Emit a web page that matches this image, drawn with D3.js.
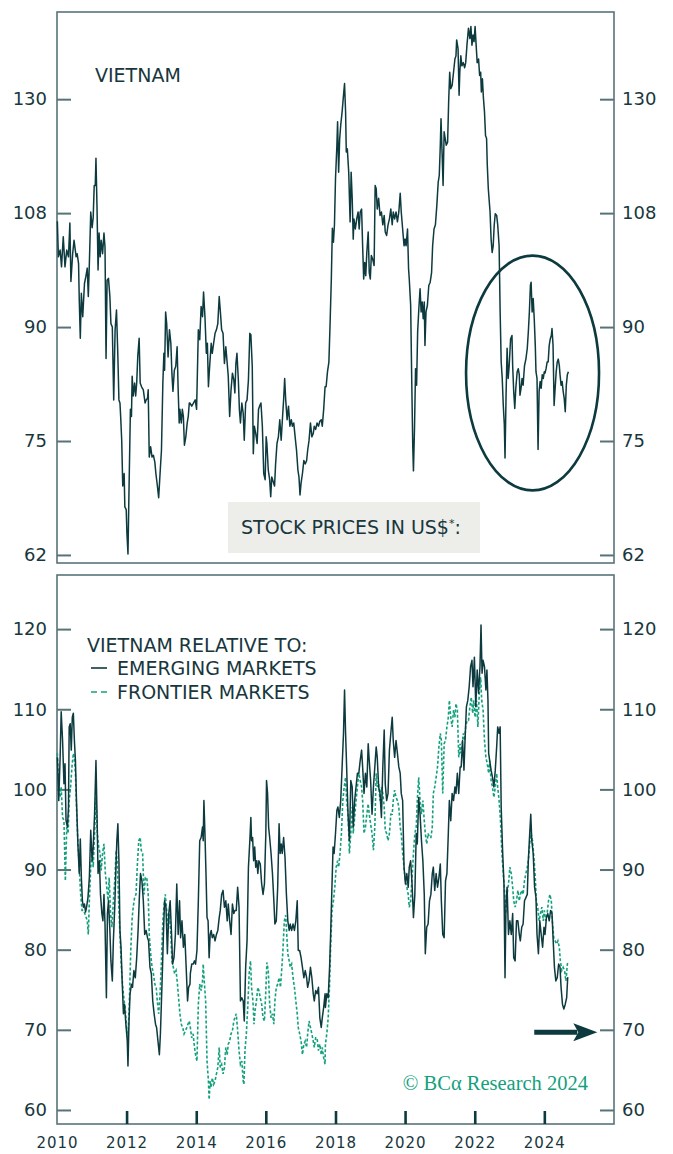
<!DOCTYPE html>
<html>
<head>
<meta charset="utf-8">
<script src="https://cdn.jsdelivr.net/npm/d3@7"></script>
<style>
  body { margin: 0; background: #fff; }
  svg text { font-family: "DejaVu Sans", sans-serif; fill: #18373d; }
</style>
</head>
<body>
<svg width="673" height="1154"></svg>
<script>
// Vietnam stock prices in US$ (top panel), [decimal year, value]
var vietnamUsd = [
[2010.01,106.6],[2010.04,100.7],[2010.09,101.8],[2010.13,99.1],[2010.18,104.0],[2010.23,99.1],[2010.28,101.8],[2010.33,100.7],[2010.37,106.3],[2010.40,96.8],[2010.45,101.2],[2010.49,103.4],[2010.55,100.7],[2010.58,101.2],[2010.62,99.6],[2010.64,94.0],[2010.67,88.4],[2010.70,95.0],[2010.74,91.5],[2010.79,96.5],[2010.83,97.6],[2010.87,98.9],[2010.90,94.5],[2010.93,99.6],[2010.97,108.2],[2011.01,105.5],[2011.04,107.2],[2011.07,112.9],[2011.10,112.9],[2011.12,117.9],[2011.15,109.1],[2011.18,98.6],[2011.21,104.6],[2011.24,100.7],[2011.27,103.4],[2011.31,101.2],[2011.35,104.6],[2011.38,102.3],[2011.41,85.6],[2011.44,97.0],[2011.48,97.3],[2011.52,94.5],[2011.55,90.5],[2011.59,90.0],[2011.63,80.1],[2011.67,89.6],[2011.71,92.5],[2011.75,85.8],[2011.78,80.1],[2011.81,79.7],[2011.83,78.0],[2011.86,75.1],[2011.89,69.8],[2011.93,71.2],[2011.95,67.5],[2011.99,67.2],[2012.01,64.7],[2012.04,62.6],[2012.07,69.4],[2012.11,78.9],[2012.14,78.0],[2012.16,83.2],[2012.19,80.6],[2012.23,82.3],[2012.26,80.6],[2012.29,82.3],[2012.32,85.8],[2012.36,88.4],[2012.39,82.3],[2012.43,81.8],[2012.48,81.4],[2012.53,79.7],[2012.56,80.1],[2012.60,80.3],[2012.62,81.4],[2012.65,73.1],[2012.69,74.3],[2012.73,73.1],[2012.77,73.3],[2012.81,72.5],[2012.84,71.2],[2012.88,69.9],[2012.92,68.5],[2012.96,71.2],[2013.00,73.9],[2013.04,82.3],[2013.07,86.3],[2013.09,84.0],[2013.12,92.2],[2013.15,90.5],[2013.19,85.8],[2013.23,89.6],[2013.27,87.7],[2013.30,83.6],[2013.33,81.2],[2013.37,84.0],[2013.41,84.5],[2013.45,87.2],[2013.48,81.4],[2013.51,77.2],[2013.53,78.9],[2013.57,77.2],[2013.60,78.9],[2013.63,78.0],[2013.66,74.5],[2013.70,75.5],[2013.74,77.2],[2013.77,78.0],[2013.80,79.7],
[2013.82,79.7],[2013.87,79.3],[2013.92,79.7],[2013.97,80.1],[2014.01,78.9],[2014.06,89.6],[2014.10,88.2],[2014.14,93.0],[2014.18,91.5],[2014.21,95.2],[2014.25,91.5],[2014.29,86.3],[2014.32,87.7],[2014.35,81.8],[2014.39,84.9],[2014.43,87.7],[2014.46,86.3],[2014.50,87.7],[2014.54,89.1],[2014.58,89.6],[2014.62,90.5],[2014.66,94.5],[2014.69,92.5],[2014.73,89.6],[2014.77,89.1],[2014.81,84.9],[2014.85,87.2],[2014.89,84.9],[2014.92,83.2],[2014.96,78.0],[2015.00,81.4],[2015.04,83.6],[2015.08,82.7],[2015.11,81.0],[2015.14,84.9],[2015.17,86.3],[2015.21,82.7],[2015.24,78.9],[2015.27,77.2],[2015.31,79.7],[2015.35,78.4],[2015.38,75.1],[2015.42,79.7],[2015.46,80.1],[2015.50,82.7],[2015.54,89.1],[2015.57,88.9],[2015.61,84.5],[2015.64,73.5],[2015.67,76.8],[2015.71,75.9],[2015.75,74.7],[2015.79,78.9],[2015.82,79.3],[2015.86,79.7],[2015.90,76.8],[2015.94,71.2],[2015.98,70.5],[2016.01,75.5],[2016.03,74.7],[2016.07,71.6],[2016.11,70.5],[2016.14,68.6],[2016.17,70.8],[2016.21,70.3],[2016.25,69.8],[2016.28,72.3],[2016.32,74.7],[2016.36,75.5],[2016.40,77.6],[2016.44,75.1],[2016.48,78.0],[2016.51,80.1],[2016.54,82.9],[2016.57,80.1],[2016.61,77.6],[2016.65,79.3],[2016.69,76.8],[2016.73,77.6],[2016.76,76.8],[2016.80,77.2],[2016.84,75.5],[2016.88,73.9],[2016.92,71.6],[2016.95,70.8],[2016.98,68.8],[2017.01,70.1],[2017.05,71.2],[2017.09,72.7],[2017.13,72.3],[2017.17,72.7],[2017.20,73.9],[2017.24,75.1],[2017.28,77.2],[2017.32,75.5],[2017.36,75.9],[2017.39,76.8],[2017.43,76.4],[2017.47,77.2],[2017.51,76.8],[2017.55,77.4],[2017.59,77.6],[2017.62,76.8],[2017.66,78.9],[2017.70,81.8],
[2017.73,81.8],[2017.77,83.8],[2017.81,85.1],[2017.84,89.8],[2017.88,97.2],[2017.91,105.4],[2017.94,103.1],[2017.97,106.0],[2018.00,114.1],[2018.04,120.4],[2018.06,125.0],[2018.09,115.3],[2018.12,121.6],[2018.15,124.3],[2018.19,127.0],[2018.23,130.4],[2018.26,132.9],[2018.29,127.0],[2018.31,119.1],[2018.34,119.7],[2018.38,115.3],[2018.42,106.5],[2018.45,115.3],[2018.48,110.6],[2018.51,103.6],[2018.53,107.0],[2018.57,105.3],[2018.61,107.0],[2018.65,108.2],[2018.68,105.3],[2018.71,108.2],[2018.75,108.7],[2018.78,102.5],[2018.81,97.2],[2018.84,99.8],[2018.87,97.7],[2018.90,101.4],[2018.94,104.8],[2018.97,98.2],[2019.00,97.2],[2019.03,100.9],[2019.07,100.3],[2019.11,99.3],[2019.14,112.9],[2019.17,112.3],[2019.20,108.7],[2019.24,110.6],[2019.28,107.6],[2019.32,108.2],[2019.36,106.0],[2019.40,107.6],[2019.43,104.8],[2019.47,104.2],[2019.51,106.0],[2019.55,107.0],[2019.59,108.7],[2019.63,106.0],[2019.66,108.2],[2019.70,107.0],[2019.74,108.2],[2019.78,106.5],[2019.82,108.2],[2019.86,111.5],[2019.89,108.2],[2019.93,105.3],[2019.97,102.5],[2020.00,103.6],[2020.03,102.5],[2020.07,105.3],[2020.10,98.8],[2020.12,97.2],[2020.16,93.2],[2020.19,82.9],[2020.22,74.4],[2020.24,71.5],[2020.27,76.5],[2020.30,84.2],[2020.33,82.0],[2020.36,89.3],[2020.40,93.2],[2020.43,95.7],[2020.46,92.2],[2020.49,93.7],[2020.52,91.2],[2020.55,93.7],[2020.57,87.4],[2020.60,92.2],[2020.64,93.2],[2020.68,96.2],[2020.72,96.7],[2020.76,98.2],[2020.79,102.5],[2020.83,105.3],[2020.87,106.0],[2020.91,109.3],[2020.95,113.5],[2020.98,114.7],[2021.01,120.4],[2021.03,125.6],[2021.06,119.2],[2021.09,112.9],[2021.12,123.0],[2021.15,121.7],[2021.18,120.4],[2021.22,121.0],[2021.25,129.1],[2021.28,135.3],[2021.31,131.8],[2021.35,132.5],[2021.39,135.3],[2021.43,138.2],[2021.46,138.9],[2021.48,142.5],[2021.52,140.5],[2021.55,130.4],
[2021.57,135.3],[2021.60,138.9],[2021.63,136.7],[2021.67,137.4],[2021.71,136.3],[2021.74,137.4],[2021.78,141.7],[2021.82,145.2],[2021.86,142.8],[2021.89,145.6],[2021.92,141.3],[2021.95,143.6],[2021.98,142.1],[2022.01,145.6],[2022.04,141.3],[2022.07,137.4],[2022.11,138.2],[2022.14,134.6],[2022.17,135.3],[2022.19,131.1],[2022.22,133.9],[2022.25,129.8],[2022.28,127.0],[2022.31,122.3],[2022.34,121.7],[2022.36,116.7],[2022.39,112.3],[2022.41,110.6],[2022.44,108.2],[2022.47,103.6],[2022.50,101.4],[2022.53,102.5],[2022.56,106.0],[2022.59,107.9],[2022.63,107.6],[2022.66,106.0],[2022.70,102.5],[2022.73,92.2],[2022.76,85.1],[2022.79,82.9],[2022.82,79.4],[2022.85,77.0],[2022.87,73.0],[2022.90,80.7],[2022.93,87.0],[2022.96,82.9],[2022.99,84.6],[2023.03,88.3],[2023.07,88.8],[2023.09,84.6],[2023.12,81.2],[2023.15,79.0],[2023.18,81.6],[2023.22,83.8],[2023.25,84.2],[2023.28,83.4],[2023.30,80.7],[2023.33,81.6],[2023.36,82.9],[2023.39,82.0],[2023.43,84.6],[2023.47,85.5],[2023.51,87.0],[2023.54,89.3],[2023.57,92.2],[2023.60,96.2],[2023.62,96.7],[2023.65,92.2],[2023.68,94.2],[2023.71,91.2],[2023.74,87.4],[2023.76,83.8],[2023.79,82.9],[2023.82,74.0],[2023.85,81.2],[2023.88,82.5],[2023.91,81.6],[2023.94,83.4],[2023.97,82.9],[2024.00,83.8],[2024.02,83.6],[2024.05,84.2],[2024.08,85.1],[2024.11,85.1],[2024.14,87.4],[2024.17,88.3],[2024.20,88.8],[2024.22,89.8],[2024.25,87.4],[2024.28,79.4],[2024.31,81.6],[2024.34,83.8],[2024.37,85.1],[2024.40,85.5],[2024.43,84.6],[2024.45,83.4],[2024.48,82.0],[2024.51,82.5],[2024.54,81.2],[2024.57,80.3],[2024.60,78.6],[2024.63,82.0],[2024.66,83.4],[2024.69,83.8]
];

// Vietnam relative to emerging markets (bottom panel, solid)
var relEmerging = [
[2010.01,104.0],[2010.05,98.6],[2010.09,104.0],[2010.12,109.7],[2010.16,106.1],[2010.20,100.7],[2010.23,103.2],[2010.26,96.1],[2010.30,95.3],[2010.33,97.8],[2010.35,107.8],[2010.38,108.2],[2010.41,104.9],[2010.44,109.0],[2010.47,109.5],[2010.50,106.1],[2010.53,103.6],[2010.56,98.6],[2010.60,93.2],[2010.64,89.5],[2010.67,93.8],[2010.70,89.0],[2010.73,86.1],[2010.76,85.3],[2010.79,85.7],[2010.82,84.7],[2010.85,85.3],[2010.89,86.5],[2010.93,89.0],[2010.97,94.9],[2011.01,91.1],[2011.04,92.8],[2011.08,96.9],[2011.12,103.6],[2011.15,96.9],[2011.18,89.5],[2011.22,91.1],[2011.25,86.9],[2011.29,84.5],[2011.32,83.6],[2011.35,86.9],[2011.38,83.2],[2011.42,74.0],[2011.45,84.5],[2011.48,86.1],[2011.52,82.4],[2011.55,78.6],[2011.59,76.1],[2011.62,81.1],[2011.66,85.3],[2011.70,91.1],[2011.72,93.6],[2011.75,95.7],[2011.78,91.1],[2011.81,82.4],[2011.84,80.3],[2011.88,75.3],[2011.91,72.0],[2011.94,73.2],[2011.98,70.7],[2012.02,68.6],[2012.04,65.5],[2012.07,71.1],[2012.10,74.5],[2012.14,75.7],[2012.17,75.3],[2012.21,77.4],[2012.25,76.5],[2012.29,79.0],[2012.33,82.4],[2012.37,86.9],[2012.40,89.5],[2012.44,88.6],[2012.48,86.1],[2012.52,81.9],[2012.56,82.4],[2012.60,81.5],[2012.63,81.1],[2012.67,77.8],[2012.71,77.0],[2012.75,73.6],[2012.79,72.0],[2012.83,70.7],[2012.86,70.3],[2012.90,68.6],[2012.94,66.9],[2012.97,69.5],[2013.00,73.6],[2013.03,77.8],[2013.06,82.4],[2013.09,86.1],[2013.13,85.3],[2013.17,79.5],[2013.21,84.5],[2013.25,86.1],[2013.29,81.9],[2013.32,78.2],[2013.36,79.0],[2013.40,81.9],[2013.44,88.2],[2013.48,81.9],[2013.52,86.1],[2013.55,81.5],[2013.59,83.6],[2013.63,80.3],[2013.67,81.9],[2013.71,77.8],[2013.75,73.6],[2013.78,75.3],[2013.82,75.7],
[2013.83,77.0],[2013.87,78.2],[2013.91,78.2],[2013.95,78.6],[2013.98,78.2],[2014.02,79.9],[2014.06,86.1],[2014.10,93.6],[2014.14,94.0],[2014.18,95.3],[2014.20,93.6],[2014.22,98.6],[2014.25,94.5],[2014.28,89.5],[2014.31,84.0],[2014.34,83.6],[2014.37,79.0],[2014.40,81.9],[2014.43,82.4],[2014.46,81.5],[2014.50,81.9],[2014.54,81.1],[2014.58,81.9],[2014.62,82.4],[2014.66,84.0],[2014.69,84.9],[2014.73,86.9],[2014.77,87.4],[2014.81,85.3],[2014.85,86.1],[2014.89,83.6],[2014.92,85.7],[2014.96,83.6],[2015.00,81.9],[2015.04,85.7],[2015.08,84.5],[2015.11,84.9],[2015.15,84.9],[2015.19,87.8],[2015.23,85.3],[2015.27,73.6],[2015.31,74.0],[2015.35,73.6],[2015.38,71.1],[2015.42,77.8],[2015.46,81.1],[2015.50,90.3],[2015.54,93.6],[2015.57,96.5],[2015.59,93.6],[2015.62,94.0],[2015.65,91.1],[2015.68,92.8],[2015.71,90.3],[2015.74,91.1],[2015.77,89.5],[2015.80,91.1],[2015.84,90.7],[2015.88,88.2],[2015.92,86.9],[2015.96,88.2],[2016.00,94.5],[2016.02,101.1],[2016.05,99.5],[2016.08,95.3],[2016.11,94.0],[2016.15,92.0],[2016.19,89.5],[2016.23,86.1],[2016.26,83.2],[2016.30,83.6],[2016.34,87.8],[2016.38,95.7],[2016.41,92.0],[2016.44,93.2],[2016.47,92.0],[2016.51,94.0],[2016.55,91.5],[2016.59,86.9],[2016.63,83.6],[2016.67,82.4],[2016.70,83.2],[2016.74,82.4],[2016.78,83.2],[2016.82,82.4],[2016.86,83.6],[2016.90,86.1],[2016.93,79.9],[2016.97,79.9],[2017.01,79.0],[2017.05,77.8],[2017.09,76.5],[2017.13,77.4],[2017.17,76.5],[2017.20,75.3],[2017.24,76.1],[2017.28,77.8],[2017.32,76.5],[2017.36,74.5],[2017.39,73.6],[2017.43,74.9],[2017.47,74.5],[2017.51,75.3],[2017.55,71.5],[2017.59,70.3],[2017.62,71.5],[2017.66,72.8],[2017.70,74.5],
[2017.71,72.8],[2017.75,74.5],[2017.79,74.0],[2017.83,77.8],[2017.86,81.9],[2017.90,88.2],[2017.93,92.8],[2017.96,92.0],[2018.00,94.5],[2018.04,97.4],[2018.07,97.8],[2018.11,96.5],[2018.15,98.6],[2018.19,102.8],[2018.23,107.0],[2018.26,112.4],[2018.29,107.0],[2018.32,102.8],[2018.36,96.9],[2018.40,93.6],[2018.44,101.1],[2018.48,100.3],[2018.51,95.3],[2018.55,98.6],[2018.59,100.3],[2018.63,102.0],[2018.67,102.0],[2018.71,103.6],[2018.75,104.9],[2018.78,102.8],[2018.82,99.5],[2018.86,102.0],[2018.90,100.3],[2018.94,105.7],[2018.97,103.6],[2019.01,101.1],[2019.05,96.9],[2019.09,100.3],[2019.13,102.8],[2019.17,105.3],[2019.20,104.0],[2019.24,100.3],[2019.28,99.5],[2019.32,96.5],[2019.36,102.8],[2019.40,107.4],[2019.43,100.7],[2019.47,98.6],[2019.51,99.5],[2019.55,104.9],[2019.59,107.0],[2019.63,109.0],[2019.66,106.1],[2019.70,104.0],[2019.74,106.1],[2019.78,104.5],[2019.82,102.8],[2019.86,102.0],[2019.89,99.5],[2019.93,98.6],[2019.97,90.3],[2020.01,88.2],[2020.05,89.5],[2020.09,87.8],[2020.12,90.3],[2020.16,91.1],[2020.20,88.2],[2020.24,84.0],[2020.28,86.9],[2020.32,94.5],[2020.35,93.2],[2020.39,99.0],[2020.43,96.9],[2020.47,93.6],[2020.51,91.1],[2020.55,86.9],[2020.58,79.5],[2020.62,82.8],[2020.66,83.2],[2020.70,86.1],[2020.74,86.9],[2020.78,89.5],[2020.81,90.3],[2020.85,87.4],[2020.89,89.5],[2020.93,87.8],[2020.97,89.0],[2021.01,90.7],[2021.04,86.1],[2021.08,81.9],[2021.12,81.5],[2021.16,88.6],[2021.20,89.5],[2021.24,94.5],[2021.27,98.6],[2021.31,96.1],[2021.35,99.5],[2021.39,98.6],[2021.43,100.3],[2021.46,99.5],[2021.50,102.0],[2021.54,99.5],[2021.58,102.8],
[2021.61,102.8],[2021.65,106.1],[2021.69,102.4],[2021.72,106.1],[2021.76,110.3],[2021.80,111.1],[2021.84,112.8],[2021.88,115.3],[2021.92,116.1],[2021.95,112.8],[2021.99,116.5],[2022.03,110.3],[2022.07,114.9],[2022.11,112.0],[2022.15,115.3],[2022.18,120.5],[2022.21,114.5],[2022.24,116.1],[2022.28,115.3],[2022.32,112.4],[2022.35,114.9],[2022.38,111.1],[2022.40,104.5],[2022.43,103.6],[2022.47,102.4],[2022.51,101.5],[2022.55,100.3],[2022.59,102.4],[2022.63,105.3],[2022.66,107.8],[2022.70,107.0],[2022.73,107.8],[2022.76,97.8],[2022.80,92.4],[2022.84,88.2],[2022.87,76.5],[2022.90,86.1],[2022.93,87.8],[2022.97,81.9],[2023.01,83.6],[2023.05,81.9],[2023.09,84.5],[2023.12,79.0],[2023.16,78.6],[2023.20,83.6],[2023.24,83.6],[2023.28,81.9],[2023.31,81.1],[2023.35,82.8],[2023.39,83.2],[2023.43,86.1],[2023.47,86.5],[2023.51,86.9],[2023.54,91.1],[2023.58,94.5],[2023.61,96.9],[2023.64,93.6],[2023.68,92.0],[2023.72,87.8],[2023.76,86.5],[2023.79,81.9],[2023.83,79.5],[2023.87,83.6],[2023.91,81.9],[2023.95,80.3],[2023.99,82.8],[2024.02,81.9],[2024.06,84.0],[2024.10,84.5],[2024.14,83.6],[2024.18,84.9],[2024.22,84.5],[2024.25,81.5],[2024.29,77.8],[2024.33,76.1],[2024.37,76.5],[2024.41,78.2],[2024.45,77.8],[2024.48,75.3],[2024.52,73.2],[2024.56,72.6],[2024.60,73.2],[2024.64,74.0],[2024.67,76.5],[2024.69,76.5]
];

// Vietnam relative to frontier markets (bottom panel, dashed)
var relFrontier = [
[2010.01,104.5],[2010.05,100.3],[2010.09,99.0],[2010.12,100.3],[2010.16,96.5],[2010.20,96.1],[2010.24,88.6],[2010.28,95.3],[2010.32,94.5],[2010.35,98.6],[2010.39,100.3],[2010.43,102.8],[2010.47,104.5],[2010.50,104.0],[2010.53,102.0],[2010.56,97.8],[2010.60,93.6],[2010.64,90.3],[2010.68,86.9],[2010.72,84.9],[2010.76,84.9],[2010.80,84.5],[2010.84,84.0],[2010.87,83.6],[2010.90,81.9],[2010.93,86.1],[2010.97,90.3],[2011.01,92.0],[2011.04,90.3],[2011.08,94.5],[2011.12,99.0],[2011.16,94.5],[2011.20,92.8],[2011.24,92.0],[2011.27,89.9],[2011.31,92.0],[2011.35,93.2],[2011.39,89.5],[2011.43,87.8],[2011.47,86.1],[2011.50,89.0],[2011.54,84.5],[2011.58,82.8],[2011.62,86.1],[2011.66,88.6],[2011.70,92.4],[2011.73,91.1],[2011.77,86.1],[2011.81,81.9],[2011.85,77.8],[2011.89,75.3],[2011.93,73.6],[2011.96,72.8],[2012.00,70.3],[2012.04,69.0],[2012.08,73.6],[2012.12,79.9],[2012.16,84.0],[2012.19,85.3],[2012.23,86.5],[2012.27,86.9],[2012.31,90.7],[2012.35,93.6],[2012.39,94.0],[2012.42,92.4],[2012.46,92.0],[2012.50,86.9],[2012.54,89.0],[2012.58,89.0],[2012.62,86.9],[2012.65,81.9],[2012.69,79.5],[2012.73,77.8],[2012.77,77.0],[2012.81,75.7],[2012.85,75.3],[2012.88,73.6],[2012.92,72.0],[2012.96,74.5],[2013.00,78.6],[2013.04,83.6],[2013.07,85.3],[2013.11,86.9],[2013.15,84.9],[2013.19,82.8],[2013.23,84.5],[2013.27,81.9],[2013.30,78.6],[2013.34,77.8],[2013.38,77.0],[2013.42,77.4],[2013.46,75.7],[2013.50,73.6],[2013.53,72.0],[2013.57,70.7],[2013.61,70.3],[2013.65,69.5],[2013.69,69.9],[2013.73,70.3],[2013.76,70.7],[2013.80,71.1],
[2013.83,70.3],[2013.87,69.0],[2013.91,69.5],[2013.95,67.8],[2013.98,66.9],[2014.02,66.1],[2014.06,73.2],[2014.10,75.7],[2014.14,74.9],[2014.18,76.1],[2014.20,78.2],[2014.23,76.1],[2014.27,73.6],[2014.31,66.1],[2014.35,63.6],[2014.37,61.3],[2014.40,63.6],[2014.43,62.8],[2014.46,64.0],[2014.50,63.2],[2014.54,63.6],[2014.58,64.5],[2014.62,65.3],[2014.66,67.8],[2014.69,65.3],[2014.73,65.7],[2014.77,64.5],[2014.81,65.3],[2014.85,67.8],[2014.89,66.9],[2014.92,68.2],[2014.96,68.6],[2015.00,69.5],[2015.04,69.9],[2015.08,71.1],[2015.11,71.5],[2015.15,72.0],[2015.19,69.9],[2015.23,67.4],[2015.27,65.7],[2015.31,66.1],[2015.35,63.6],[2015.37,63.2],[2015.40,67.4],[2015.44,69.5],[2015.48,72.8],[2015.52,77.0],[2015.56,78.6],[2015.59,75.3],[2015.63,73.6],[2015.66,70.7],[2015.69,72.4],[2015.73,73.6],[2015.77,75.3],[2015.80,74.9],[2015.84,74.0],[2015.88,73.2],[2015.92,71.5],[2015.96,71.1],[2016.00,74.9],[2016.03,78.4],[2016.07,77.4],[2016.11,73.2],[2016.15,71.5],[2016.19,72.0],[2016.23,70.7],[2016.26,73.6],[2016.30,75.3],[2016.34,75.7],[2016.38,76.5],[2016.42,75.3],[2016.46,77.8],[2016.49,79.9],[2016.53,83.6],[2016.57,84.3],[2016.60,81.9],[2016.63,79.5],[2016.67,78.6],[2016.70,77.8],[2016.74,78.2],[2016.78,76.5],[2016.82,75.3],[2016.86,73.6],[2016.90,72.0],[2016.93,70.3],[2016.97,69.5],[2017.01,68.6],[2017.05,66.9],[2017.09,68.2],[2017.13,68.6],[2017.17,67.8],[2017.20,69.5],[2017.24,71.1],[2017.28,70.3],[2017.32,69.5],[2017.36,68.6],[2017.39,67.8],[2017.43,69.0],[2017.47,69.0],[2017.51,67.4],[2017.55,68.2],[2017.59,66.9],[2017.62,67.8],[2017.66,66.5],[2017.70,65.7],
[2017.71,68.2],[2017.75,69.5],[2017.79,71.5],[2017.83,75.7],[2017.86,80.3],[2017.90,84.9],[2017.94,86.1],[2017.98,87.8],[2018.02,90.3],[2018.06,91.1],[2018.09,90.3],[2018.13,92.0],[2018.17,94.5],[2018.21,98.6],[2018.25,100.3],[2018.29,101.5],[2018.32,98.6],[2018.36,96.9],[2018.40,92.0],[2018.44,94.5],[2018.48,97.8],[2018.51,94.5],[2018.55,96.5],[2018.59,98.6],[2018.63,100.3],[2018.67,102.0],[2018.71,101.1],[2018.75,100.3],[2018.78,98.6],[2018.82,94.5],[2018.86,95.3],[2018.90,96.9],[2018.94,98.2],[2018.97,96.9],[2019.01,95.7],[2019.05,94.5],[2019.09,92.4],[2019.13,95.3],[2019.17,102.0],[2019.20,100.3],[2019.24,100.7],[2019.28,98.6],[2019.32,100.3],[2019.36,99.5],[2019.40,97.8],[2019.43,94.9],[2019.47,94.5],[2019.51,93.6],[2019.55,94.5],[2019.59,96.9],[2019.63,96.9],[2019.66,98.6],[2019.70,99.9],[2019.74,99.0],[2019.78,98.6],[2019.82,97.8],[2019.86,95.3],[2019.89,94.5],[2019.93,92.0],[2019.97,90.3],[2020.01,88.6],[2020.05,87.8],[2020.09,86.9],[2020.12,85.3],[2020.16,86.1],[2020.20,89.0],[2020.24,92.0],[2020.28,94.5],[2020.32,95.3],[2020.35,98.6],[2020.39,101.5],[2020.43,98.6],[2020.47,96.9],[2020.51,98.6],[2020.55,96.1],[2020.58,94.5],[2020.62,93.2],[2020.66,94.5],[2020.70,94.0],[2020.74,94.0],[2020.78,95.3],[2020.81,99.5],[2020.85,100.3],[2020.89,101.5],[2020.93,102.8],[2020.97,105.3],[2021.01,107.0],[2021.04,106.1],[2021.08,99.5],[2021.12,105.7],[2021.16,106.1],[2021.20,107.8],[2021.24,109.0],[2021.27,111.1],[2021.31,109.0],[2021.35,107.8],[2021.39,109.9],[2021.43,109.0],[2021.46,110.7],[2021.50,109.9],[2021.54,104.0],[2021.58,105.7],
[2021.59,104.5],[2021.63,105.3],[2021.67,107.0],[2021.71,106.1],[2021.74,107.8],[2021.78,108.6],[2021.82,108.6],[2021.86,110.3],[2021.90,111.5],[2021.94,109.5],[2021.97,111.1],[2022.01,109.0],[2022.05,111.1],[2022.09,107.8],[2022.13,112.0],[2022.17,114.0],[2022.20,111.1],[2022.24,109.9],[2022.28,106.1],[2022.32,104.0],[2022.36,103.2],[2022.40,102.0],[2022.43,103.6],[2022.47,101.1],[2022.51,100.3],[2022.55,99.0],[2022.59,100.3],[2022.63,102.0],[2022.66,100.3],[2022.70,98.6],[2022.74,96.1],[2022.78,92.0],[2022.82,89.5],[2022.85,87.8],[2022.89,84.5],[2022.93,86.9],[2022.97,88.2],[2023.01,90.3],[2023.05,89.5],[2023.09,87.8],[2023.12,86.1],[2023.16,85.3],[2023.20,86.1],[2023.24,87.4],[2023.28,86.1],[2023.31,86.9],[2023.35,87.4],[2023.39,86.9],[2023.43,88.6],[2023.47,89.5],[2023.51,90.3],[2023.54,91.1],[2023.58,93.2],[2023.62,94.5],[2023.66,93.6],[2023.70,91.5],[2023.74,89.0],[2023.77,86.1],[2023.81,85.3],[2023.85,83.6],[2023.89,84.5],[2023.93,85.3],[2023.97,83.6],[2024.00,84.9],[2024.04,83.6],[2024.08,84.5],[2024.12,86.1],[2024.16,86.9],[2024.20,86.1],[2024.23,83.6],[2024.27,81.5],[2024.31,81.1],[2024.35,80.7],[2024.39,81.1],[2024.43,80.3],[2024.46,78.6],[2024.50,77.4],[2024.54,77.8],[2024.58,77.4],[2024.62,76.1],[2024.66,78.2],[2024.69,78.6]
];

// axis ticks
var topTicks = [62.5, 75, 90, 108, 129.6];
var topTickLabels = ['62', '75', '90', '108', '130'];
var bottomTicks = [60, 70, 80, 90, 100, 110, 120];
var yearTicks = [2010, 2012, 2014, 2016, 2018, 2020, 2022, 2024];

var legendLabels = ['EMERGING MARKETS', 'FRONTIER MARKETS'];

var dark = '#0d3a3f';
var green = '#14a07c';
var frameCol = '#587378';

function toDate(y) {
    var yr = Math.floor(y);
    var a = new Date(yr, 0, 1), b = new Date(yr + 1, 0, 1);
    return new Date(+a + (y - yr) * (b - a));
}

var svg = d3.select('svg');

var left = 57, right = 614;
var top1 = {t: 12, b: 563};
var top2 = {t: 575, b: 1124};

var x = d3.scaleTime()
    .domain([new Date(2010, 0, 1), new Date(2026, 0, 1)])
    .range([left, right]);

var yTop = d3.scaleLog()
    .domain([61.7, 149])
    .range([top1.b, top1.t]);

var yBot = d3.scaleLinear()
    .domain([58.25, 126.75])
    .range([top2.b, top2.t]);

// frames
[top1, top2].forEach(function(p) {
    svg.append('rect')
        .attr('x', left).attr('y', p.t)
        .attr('width', right - left).attr('height', p.b - p.t)
        .attr('fill', 'none')
        .attr('stroke', frameCol)
        .attr('stroke-width', 1.6);
});

function styleAxis(g, col, w) {
    g.select('.domain').remove();
    g.selectAll('.tick line').attr('stroke', col).attr('stroke-width', w);
    g.selectAll('.tick text')
        .attr('fill', '#18373d')
        .style('font-family', '"DejaVu Sans", sans-serif');
}

// top panel y axes
svg.append('g')
    .attr('transform', 'translate(' + left + ',0)')
    .call(d3.axisLeft(yTop).tickValues(topTicks).tickSize(-14).tickPadding(10)
        .tickFormat(function(d, i) { return topTickLabels[i]; }))
    .call(styleAxis, frameCol, 2)
    .selectAll('text').style('font-size', '18px');

svg.append('g')
    .attr('transform', 'translate(' + right + ',0)')
    .call(d3.axisRight(yTop).tickValues(topTicks).tickSize(-14).tickPadding(8)
        .tickFormat(function(d, i) { return topTickLabels[i]; }))
    .call(styleAxis, frameCol, 2)
    .selectAll('text').style('font-size', '18px');

// bottom panel y axes
svg.append('g')
    .attr('transform', 'translate(' + left + ',0)')
    .call(d3.axisLeft(yBot).tickValues(bottomTicks).tickSize(-14).tickPadding(10))
    .call(styleAxis, frameCol, 2)
    .selectAll('text').style('font-size', '18px');

svg.append('g')
    .attr('transform', 'translate(' + right + ',0)')
    .call(d3.axisRight(yBot).tickValues(bottomTicks).tickSize(-14).tickPadding(8))
    .call(styleAxis, frameCol, 2)
    .selectAll('text').style('font-size', '18px');

// x axis (bottom only)
var xAxisG = svg.append('g')
    .attr('transform', 'translate(0,' + top2.b + ')')
    .call(d3.axisBottom(x)
        .tickValues(yearTicks.map(function(y) { return new Date(y, 0, 1); }))
        .tickSize(-13).tickPadding(13)
        .tickFormat(d3.timeFormat('%Y')))
    .call(styleAxis, dark, 2.6);
xAxisG.selectAll('text').style('font-size', '15px').style('letter-spacing', '1px');
xAxisG.selectAll('.tick').filter(function(d) { return d.getFullYear() === 2010; })
    .select('line').remove();

// lines
var lineTop = d3.line()
    .x(function(d) { return x(toDate(d[0])); })
    .y(function(d) { return yTop(d[1]); });

var lineBot = d3.line()
    .x(function(d) { return x(toDate(d[0])); })
    .y(function(d) { return yBot(d[1]); });

svg.append('path')
    .datum(vietnamUsd)
    .attr('d', lineTop)
    .attr('fill', 'none')
    .attr('stroke', dark)
    .attr('stroke-width', 1.5)
    .attr('stroke-linejoin', 'round');

svg.append('path')
    .datum(relFrontier)
    .attr('d', lineBot)
    .attr('fill', 'none')
    .attr('stroke', green)
    .attr('stroke-width', 1.6)
    .attr('stroke-dasharray', '3,2');

svg.append('path')
    .datum(relEmerging)
    .attr('d', lineBot)
    .attr('fill', 'none')
    .attr('stroke', dark)
    .attr('stroke-width', 1.5)
    .attr('stroke-linejoin', 'round');

// circled area in top panel
var ellX0 = x(toDate(2021.75)), ellX1 = x(toDate(2025.57));
var ellY0 = yTop(100.9), ellY1 = yTop(69.3);
svg.append('ellipse')
    .attr('cx', (ellX0 + ellX1) / 2)
    .attr('cy', (ellY0 + ellY1) / 2)
    .attr('rx', (ellX1 - ellX0) / 2)
    .attr('ry', (ellY1 - ellY0) / 2)
    .attr('fill', 'none')
    .attr('stroke', dark)
    .attr('stroke-width', 2.6);

// labels top panel
svg.append('text')
    .attr('x', 95).attr('y', 82)
    .style('font-size', '19px')
    .text('VIETNAM');

svg.append('rect')
    .attr('x', 228).attr('y', 502)
    .attr('width', 252).attr('height', 51)
    .attr('fill', '#ededea');

var st = svg.append('text')
    .attr('x', 241).attr('y', 534)
    .style('font-size', '19px');
st.append('tspan').text('STOCK PRICES IN US$');
st.append('tspan').attr('dy', -7).style('font-size', '11px').text('*');
st.append('tspan').attr('dy', 7).text(':');

// legend bottom panel
svg.append('text')
    .attr('x', 87).attr('y', 652)
    .style('font-size', '19px')
    .text('VIETNAM RELATIVE TO:');

var leg = svg.selectAll('.leg')
    .data(legendLabels)
    .enter().append('g')
    .attr('class', 'leg')
    .attr('transform', function(d, i) { return 'translate(0,' + (668 + i * 24) + ')'; });

leg.append('line')
    .attr('x1', 91).attr('x2', 107)
    .attr('stroke', function(d, i) { return i === 0 ? dark : green; })
    .attr('stroke-width', 1.6)
    .attr('stroke-dasharray', function(d, i) { return i === 0 ? null : '6,4'; });

leg.append('text')
    .attr('x', 117).attr('y', 7)
    .style('font-size', '19px')
    .text(function(d) { return d; });

// arrow pointing right
var arrY = yBot(69.7);
var ax0 = x(toDate(2023.71)), ax1 = x(toDate(2025.52));
svg.append('line')
    .attr('x1', ax0).attr('x2', ax1 - 20)
    .attr('y1', arrY).attr('y2', arrY)
    .attr('stroke', dark)
    .attr('stroke-width', 5);
svg.append('path')
    .attr('d', 'M' + (ax1 - 24) + ',' + (arrY - 9) + 'L' + ax1 + ',' + arrY + 'L' + (ax1 - 24) + ',' + (arrY + 9) + 'L' + (ax1 - 19) + ',' + arrY + 'Z')
    .attr('fill', dark);

// copyright
svg.append('text')
    .attr('x', 588).attr('y', 1090)
    .attr('text-anchor', 'end')
    .style('font-family', '"Liberation Serif", "DejaVu Serif", serif')
    .style('font-size', '20.5px')
    .style('fill', green)
    .text('\u00a9 BC\u03b1 Research 2024');
</script>
</body>
</html>
